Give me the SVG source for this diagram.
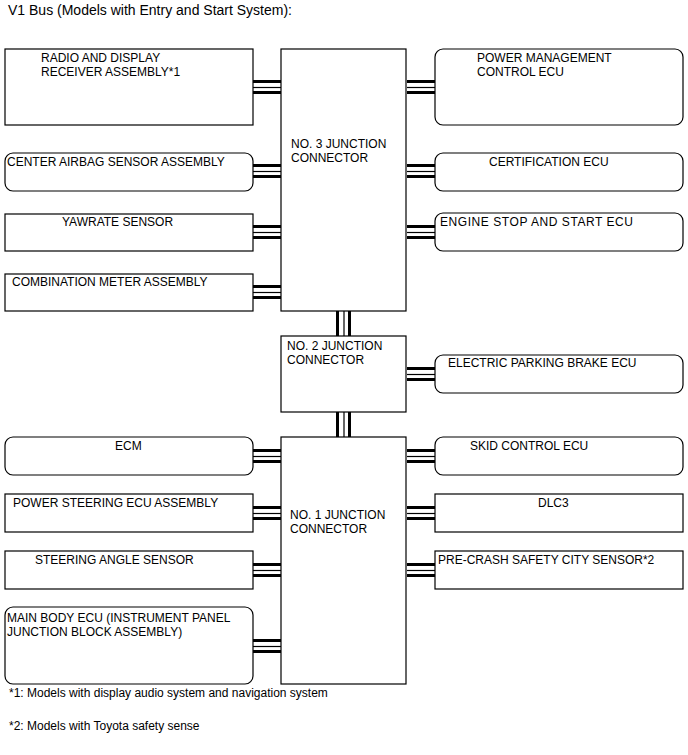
<svg xmlns="http://www.w3.org/2000/svg" width="688" height="755" viewBox="0 0 688 755">
<style>
.b{fill:#fff;stroke:#000;stroke-width:1.2}
text{font-family:"Liberation Sans",Arial,sans-serif;font-size:12px;fill:#000}
.t{font-size:14px}
.k{stroke:#000;stroke-width:3;fill:none}
.n{stroke:#000;stroke-width:1.2;fill:none}
</style>
<defs>
<g id="h"><line class="k" x1="0" y1="-5.5" x2="28" y2="-5.5"/><line class="n" x1="0" y1="0.5" x2="28" y2="0.5"/><line class="k" x1="0" y1="5.5" x2="28" y2="5.5"/></g>
<g id="v"><line class="k" x1="-6" y1="0" x2="-6" y2="25"/><line class="n" x1="0.5" y1="0" x2="0.5" y2="25"/><line class="k" x1="6" y1="0" x2="6" y2="25"/></g>
</defs>
<text class="t" x="8" y="15">V1 Bus (Models with Entry and Start System):</text>
<g id="connectors">
<use href="#h" x="253" y="87"/>
<use href="#h" x="407" y="87"/>
<use href="#h" x="253" y="171"/>
<use href="#h" x="407" y="171"/>
<use href="#h" x="253" y="232"/>
<use href="#h" x="407" y="232"/>
<use href="#h" x="253" y="292"/>
<use href="#h" x="407" y="374"/>
<use href="#h" x="253" y="456"/>
<use href="#h" x="407" y="456"/>
<use href="#h" x="253" y="513"/>
<use href="#h" x="407" y="513"/>
<use href="#h" x="253" y="570"/>
<use href="#h" x="407" y="570"/>
<use href="#h" x="253" y="646"/>
<use href="#v" x="343.5" y="311"/>
<use href="#v" x="343.5" y="412"/>
</g>
<g id="radio"><rect class="b" x="5" y="49" width="248" height="76"/><text x="41" y="62">RADIO AND DISPLAY</text><text x="41" y="76">RECEIVER ASSEMBLY*1</text></g>
<g id="jc3"><rect class="b" x="281" y="49" width="125" height="262"/><text x="291" y="148">NO. 3 JUNCTION</text><text x="291" y="162">CONNECTOR</text></g>
<g id="pm"><rect class="b" x="435" y="49" width="248" height="76" rx="8"/><text x="477" y="62">POWER MANAGEMENT</text><text x="477" y="76">CONTROL ECU</text></g>
<g id="airbag"><rect class="b" x="5" y="153" width="248" height="38" rx="8"/><text x="7" y="166">CENTER AIRBAG SENSOR ASSEMBLY</text></g>
<g id="cert"><rect class="b" x="435" y="153" width="248" height="38" rx="8"/><text x="489" y="166">CERTIFICATION ECU</text></g>
<g id="yaw"><rect class="b" x="5" y="214" width="248" height="37"/><text x="62" y="226">YAWRATE SENSOR</text></g>
<g id="engine"><rect class="b" x="435" y="213" width="248" height="38" rx="8"/><text x="440" y="226" textLength="193" lengthAdjust="spacing">ENGINE STOP AND START ECU</text></g>
<g id="comb"><rect class="b" x="5" y="274" width="248" height="37"/><text x="12" y="286">COMBINATION METER ASSEMBLY</text></g>
<g id="jc2"><rect class="b" x="281" y="336" width="125" height="76"/><text x="287" y="350">NO. 2 JUNCTION</text><text x="287" y="364">CONNECTOR</text></g>
<g id="epb"><rect class="b" x="435" y="355" width="248" height="38" rx="8"/><text x="448" y="367">ELECTRIC PARKING BRAKE ECU</text></g>
<g id="ecm"><rect class="b" x="5" y="437" width="248" height="38" rx="8"/><text x="115" y="450">ECM</text></g>
<g id="jc1"><rect class="b" x="281" y="437" width="125" height="247"/><text x="290" y="519">NO. 1 JUNCTION</text><text x="290" y="533">CONNECTOR</text></g>
<g id="skid"><rect class="b" x="435" y="437" width="248" height="38" rx="8"/><text x="470" y="450">SKID CONTROL ECU</text></g>
<g id="ps"><rect class="b" x="5" y="494" width="248" height="38"/><text x="13" y="507">POWER STEERING ECU ASSEMBLY</text></g>
<g id="dlc3"><rect class="b" x="435" y="494" width="248" height="38"/><text x="538" y="507">DLC3</text></g>
<g id="sa"><rect class="b" x="5" y="551" width="248" height="38"/><text x="35" y="564">STEERING ANGLE SENSOR</text></g>
<g id="pcs"><rect class="b" x="435" y="551" width="248" height="38"/><text x="438" y="564">PRE-CRASH SAFETY CITY SENSOR*2</text></g>
<g id="mainbody"><rect class="b" x="5" y="607" width="248" height="77" rx="8"/><text x="7" y="622">MAIN BODY ECU (INSTRUMENT PANEL</text><text x="7" y="636">JUNCTION BLOCK ASSEMBLY)</text></g>
<text x="9" y="697">*1: Models with display audio system and navigation system</text>
<text x="9" y="730">*2: Models with Toyota safety sense</text>
</svg>
